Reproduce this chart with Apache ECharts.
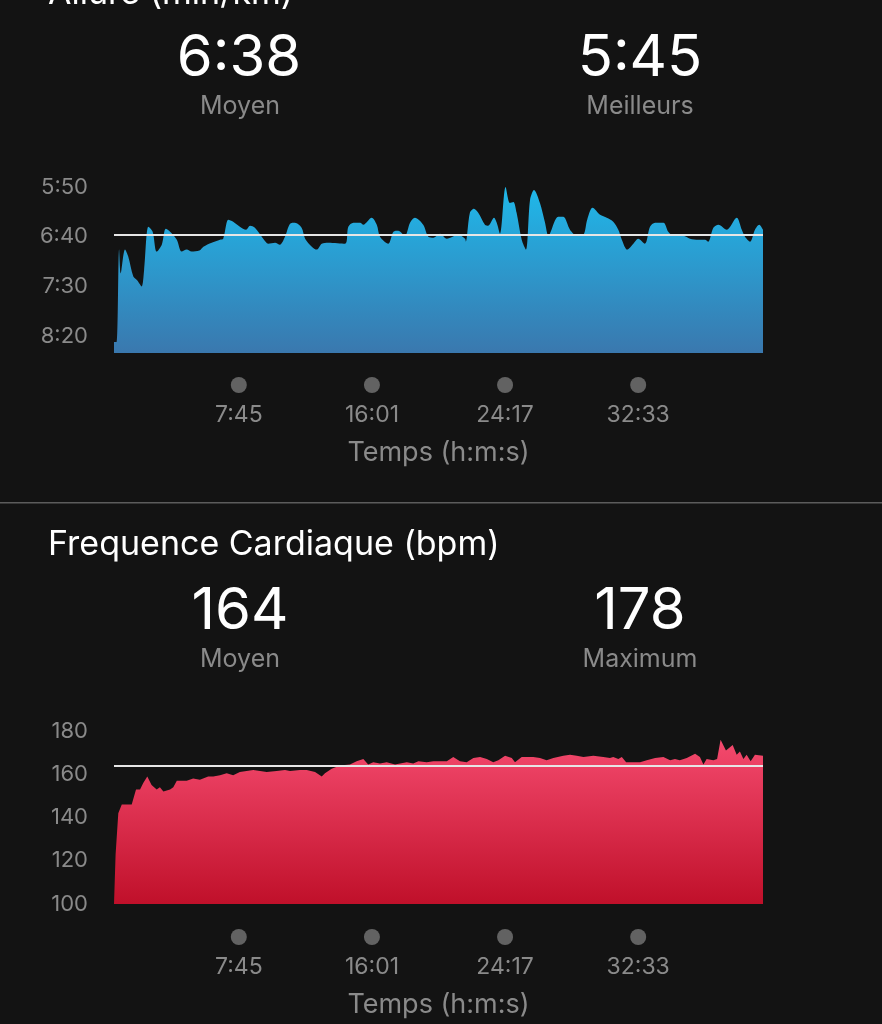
<!DOCTYPE html>
<html>
<head>
<meta charset="utf-8">
<script src="https://cdn.jsdelivr.net/npm/echarts@6/dist/echarts.min.js"></script>
<style>
html,body{margin:0;padding:0;background:#131313;}
#c{width:882px;height:1024px;}
</style>
</head>
<body>
<div id="c"></div>
<script>
// ---- Data (times in seconds) ----
const paceTimes = [0,10,19,25,41,53,72,87,103,112,128,144,159,178,193,209,234,252,271,289,318,333,364,395,407,426,444,469,492,507,525,556,575,600,618,637,656,674,699,712,737,755,774,798,861,873,892,917,929,960,979,991,1022,1041,1059,1084,1103,1121,1152,1171,1190,1215,1240,1283,1308,1311,1326,1341,1357,1382,1394,1416,1426,1438,1459,1475,1488,1500,1519,1535,1550,1565,1587,1606,1618,1624,1655,1674,1699,1724,1749,1763,1783,1811,1836,1860,1879,1892,1912,1935,1953,1978,1997,2016,2047,2065,2084,2121,2146,2177,2202,2214,2233,2252,2283,2320,2339,2351,2370,2388,2404,2418];
// pace in seconds per km
const paceValues = [506,506,413,437,413,420,440,444,450,434,390,395,415,408,392,395,403,415,413,415,414,410,406,403,402,383,385,390,393,389,391,402,407,406,408,400,387,386,391,402,410,413,407,406,407,390,386,386,388,381,388,400,407,395,394,399,386,381,388,400,401,397,402,398,402,405,376,372,376,388,389,381,386,397,350,366,365,376,403,413,363,353,366,386,399,397,380,380,393,399,398,383,371,378,381,385,393,403,413,407,402,407,390,386,386,395,399,399,402,403,403,405,391,388,393,381,393,400,405,393,388,393];
const hrTimes = [0,6,16,29,53,66,82,97,109,124,140,159,171,184,209,221,234,271,295,320,351,370,395,420,444,469,494,519,544,569,606,637,656,693,718,749,774,786,811,842,879,904,929,947,966,991,1016,1047,1066,1091,1115,1134,1165,1190,1215,1240,1264,1289,1314,1339,1364,1389,1413,1432,1457,1482,1494,1519,1562,1587,1612,1637,1674,1699,1724,1749,1786,1823,1848,1860,1879,1892,1908,1960,1985,2016,2047,2072,2090,2108,2134,2165,2183,2196,2208,2233,2247,2260,2280,2305,2320,2332,2345,2357,2372,2388,2418];
const hrValues = [100,123,142,146,146,146,153,153,156,159,155,153,154,152,153,154,157,157,158,157.5,159,159,159.5,160.5,159.5,161,161.5,162,161.5,161,161.5,162,161.5,162,162,161,159,160.5,162.5,164,164.5,166,167,164.5,165.5,165,165.5,164.5,165,165.5,165,166,165.5,166,166,166,168,166,165.5,167.5,168,167,165.5,166.5,168.5,167.5,165.5,168,168,167.5,166.5,167.5,168.5,169,168.5,168,168.5,168,167.5,168,167,168,165.5,165.5,166.5,167.5,168,166.5,167,166.5,167.5,169.5,168,164.5,167,166.5,167,176,171,173.5,169,170.5,167,169,166,169,168.5];
const tickTimes = [465, 961, 1457, 1953];
const paceTicks = [350, 400, 450, 500];
const hrTicks = [100, 120, 140, 160, 180];
const paceAvg = 398, paceBest = 345;
const hrAvg = 164, hrMax = 178;
const paceTitle = 'Allure (min/km)';
const hrTitle = 'Frequence Cardiaque (bpm)';
const axisTitle = 'Temps (h:m:s)';
const totalTime = 2418;

function mmss(s) {
  s = Math.round(s);
  const m = Math.floor(s / 60), r = s % 60;
  return m + ':' + (r < 10 ? '0' : '') + r;
}

const FONT = 'Inter, "Noto Sans", sans-serif';
const GRAY = '#8a8a8a';
const L = 114, W = 649;

const chart = echarts.init(document.getElementById('c'), null, {renderer: 'canvas'});

function txt(text, x, y, size, color, align) {
  return {type: 'text', x: x, y: y, style: {text: text, fill: color, font: size + 'px ' + FONT, textAlign: align || 'center', textVerticalAlign: 'middle'}};
}

const option = {
  backgroundColor: '#131313',
  animation: false,
  textStyle: {fontFamily: FONT},
  grid: [
    {left: L, top: 187, width: W, height: 166},
    {left: L, top: 377, width: W, height: 16},
    {left: L, top: 731, width: W, height: 173},
    {left: L, top: 929, width: W, height: 16}
  ],
  xAxis: [0, 1, 2, 3].map(i => {
    const isDots = (i % 2 === 1);
    return {
      type: 'value', gridIndex: i, min: 0, max: totalTime,
      axisLine: {show: false}, axisTick: {show: false}, splitLine: {show: false},
      axisLabel: isDots ? {
        show: true, customValues: tickTimes, formatter: v => mmss(v),
        color: GRAY, fontSize: 23, fontFamily: FONT, margin: 11
      } : {show: false},
      name: isDots ? axisTitle : '', nameLocation: 'middle', nameGap: 46,
      nameTextStyle: {color: GRAY, fontSize: 27, fontFamily: FONT}
    };
  }),
  yAxis: [
    {type: 'value', gridIndex: 0, inverse: true, min: 350, max: 517, interval: 50,
      axisLine: {show: false}, axisTick: {show: false}, splitLine: {show: false},
      axisLabel: {color: GRAY, fontSize: 22, fontFamily: FONT, margin: 26, showMaxLabel: false,
        formatter: v => paceTicks.indexOf(v) >= 0 ? mmss(v) : ''}},
    {type: 'value', gridIndex: 1, min: 0, max: 1, show: false},
    {type: 'value', gridIndex: 2, min: 100, max: 180, interval: 20,
      axisLine: {show: false}, axisTick: {show: false}, splitLine: {show: false},
      axisLabel: {color: GRAY, fontSize: 22, fontFamily: FONT, margin: 26,
        formatter: v => hrTicks.indexOf(v) >= 0 ? String(v) : ''}},
    {type: 'value', gridIndex: 3, min: 0, max: 1, show: false}
  ],
  series: [
    {type: 'line', xAxisIndex: 0, yAxisIndex: 0, showSymbol: false, smooth: 0.3,
      data: paceTimes.map((t, i) => [t, paceValues[i]]),
      lineStyle: {width: 0},
      areaStyle: {origin: 'end', opacity: 1, color: new echarts.graphic.LinearGradient(0, 0, 0, 1, [
        {offset: 0, color: '#1fb8ea'}, {offset: 1, color: '#3a78ae'}])},
      markLine: {silent: true, symbol: 'none', label: {show: false},
        lineStyle: {color: '#e6e6e6', width: 2, type: 'solid'}, data: [{yAxis: paceAvg}]}},
    {type: 'scatter', xAxisIndex: 1, yAxisIndex: 1, symbol: 'circle', symbolSize: 16,
      itemStyle: {color: '#777777'}, data: tickTimes.map(t => [t, 0.5])},
    {type: 'line', xAxisIndex: 2, yAxisIndex: 2, showSymbol: false, smooth: false,
      data: hrTimes.map((t, i) => [t, hrValues[i]]),
      lineStyle: {width: 0},
      areaStyle: {origin: 'start', opacity: 1, color: new echarts.graphic.LinearGradient(0, 0, 0, 1, [
        {offset: 0, color: '#f44a6e'}, {offset: 1, color: '#c0102a'}])},
      markLine: {silent: true, symbol: 'none', label: {show: false},
        lineStyle: {color: '#e6e6e6', width: 2, type: 'solid'}, data: [{yAxis: hrAvg}]}},
    {type: 'scatter', xAxisIndex: 3, yAxisIndex: 3, symbol: 'circle', symbolSize: 16,
      itemStyle: {color: '#777777'}, data: tickTimes.map(t => [t, 0.5])}
  ],
  graphic: [
    txt(paceTitle, 48, -6, 34, '#ffffff', 'left'),
    txt(mmss(paceAvg), 239, 59, 58, '#ffffff'),
    txt('Moyen', 240, 106, 25, GRAY),
    txt(mmss(paceBest), 640, 59, 58, '#ffffff'),
    txt('Meilleurs', 640, 106, 25, GRAY),
    {type: 'rect', shape: {x: 0, y: 502, width: 882, height: 1.5}, style: {fill: '#5c5c5c'}},
    txt(hrTitle, 48, 545, 34, '#ffffff', 'left'),
    txt(String(hrAvg), 240, 612, 58, '#ffffff'),
    txt('Moyen', 240, 659, 25, GRAY),
    txt(String(hrMax), 640, 612, 58, '#ffffff'),
    txt('Maximum', 640, 659, 25, GRAY)
  ]
};
chart.setOption(option);
</script>
</body>
</html>
